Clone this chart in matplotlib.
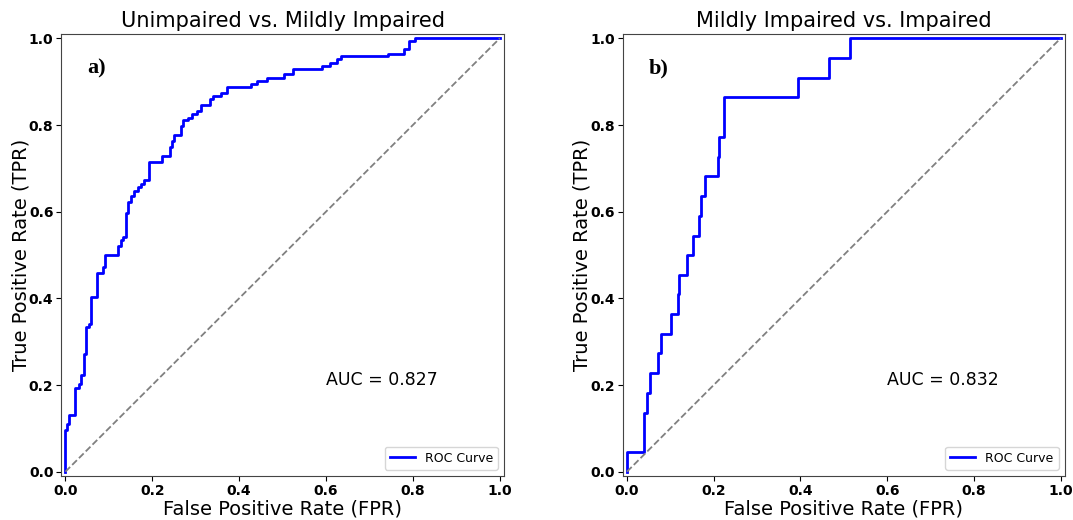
import numpy as np
import matplotlib.pyplot as plt

# ROC step points
fpr_a = [0.0, 0.0, 0.003, 0.009, 0.023, 0.032, 0.036, 0.042, 0.047, 0.054, 0.059,
         0.072, 0.086, 0.092, 0.122, 0.127, 0.132, 0.140, 0.145, 0.152, 0.159,
         0.167, 0.173, 0.182, 0.192, 0.222, 0.240, 0.245, 0.251, 0.265, 0.271,
         0.282, 0.292, 0.302, 0.313, 0.332, 0.340, 0.358, 0.371, 0.427, 0.440,
         0.465, 0.504, 0.525, 0.591, 0.610, 0.626, 0.635, 0.742, 0.780, 0.790,
         0.805, 1.0]
tpr_a = [0.0, 0.096, 0.111, 0.130, 0.193, 0.202, 0.223, 0.271, 0.334, 0.340, 0.403,
         0.458, 0.472, 0.501, 0.520, 0.535, 0.541, 0.596, 0.622, 0.637, 0.647,
         0.656, 0.664, 0.672, 0.714, 0.728, 0.750, 0.764, 0.778, 0.798, 0.811,
         0.817, 0.825, 0.833, 0.847, 0.860, 0.866, 0.875, 0.888, 0.894, 0.902,
         0.909, 0.917, 0.929, 0.936, 0.944, 0.952, 0.959, 0.965, 0.975, 0.994,
         1.0, 1.0]

fpr_b = [0.0, 0.0, 0.040, 0.046, 0.053, 0.0715, 0.078, 0.102, 0.117, 0.120, 0.138,
         0.153, 0.166, 0.170, 0.181, 0.209, 0.212, 0.223, 0.394, 0.467, 0.515, 1.0]
tpr_b = [0.0, 0.045, 0.136, 0.182, 0.227, 0.273, 0.318, 0.364, 0.409, 0.455, 0.500,
         0.545, 0.591, 0.636, 0.682, 0.727, 0.773, 0.864, 0.909, 0.955, 1.0, 1.0]

titles = ["Unimpaired vs. Mildly Impaired", "Mildly Impaired vs. Impaired"]
auc_values = [0.827, 0.832]
panel_tags = ["a)", "b)"]

fig = plt.figure(figsize=(10.73, 5.2), dpi=100)
ax1 = fig.add_axes([0.0569, 0.0846, 0.4129, 0.85])
ax2 = fig.add_axes([0.5803, 0.0846, 0.4122, 0.85])

for ax, fpr, tpr, title, auc, tag in zip([ax1, ax2], [fpr_a, fpr_b], [tpr_a, tpr_b],
                                         titles, auc_values, panel_tags):
    ax.plot(fpr, tpr, drawstyle='steps-post', color='blue', lw=2, label='ROC Curve')
    ax.plot([0, 1], [0, 1], color='gray', ls='--', lw=1.3)
    ax.set_xlim(-0.01, 1.01)
    ax.set_ylim(-0.01, 1.01)
    ax.set_title(title, fontsize=15, pad=5)
    ax.set_xlabel('False Positive Rate (FPR)', fontsize=14, labelpad=1)
    ax.set_ylabel('True Positive Rate (TPR)', fontsize=14, labelpad=-1)
    ax.text(0.6, 0.2, 'AUC = %.3f' % auc, fontsize=12.5)
    ax.text(0.05, 0.92, tag, fontsize=16, fontweight='bold', family='Liberation Serif')
    ax.legend(loc='lower right', fontsize=9)
    ax.tick_params(pad=2)
    for lbl in ax.get_xticklabels() + ax.get_yticklabels():
        lbl.set_fontweight('bold')
        lbl.set_fontsize(10)
    for s in ax.spines.values():
        s.set_color('#444444')

fig.savefig('out.png', dpi=100)
